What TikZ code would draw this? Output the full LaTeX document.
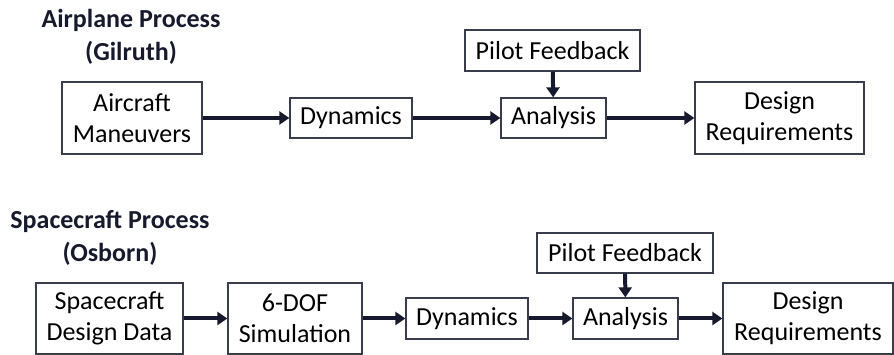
\documentclass[tikz,border=0pt]{standalone}
\usepackage{fontspec}
\setmainfont{Carlito}
\usetikzlibrary{arrows.meta}
\definecolor{ink}{RGB}{22,26,44}
\tikzset{
	box/.style={draw=ink!85, line width=1.3pt, align=center, inner sep=0pt,
		font=\fontsize{26}{31}\selectfont},
	flow/.style={draw=ink, line width=4pt, -{Triangle[length=10pt,width=13pt]}},
	heading/.style={align=center, text=ink, font=\bfseries\fontsize{26}{33}\selectfont}
}
\begin{document}
\begin{tikzpicture}[x=1pt,y=1pt]
			\useasboundingbox (0,0) rectangle (894,355);
			% airplane process
			\node[heading] (t1) at (131,318) {Airplane Process\\(Gilruth)};
			\node[box, minimum width=140, minimum height=72] (am) at (132,237) {Aircraft\\Maneuvers};
			\node[box, minimum width=122, minimum height=40] (dyna) at (351,237) {Dynamics};
			\node[box, minimum width=105, minimum height=40] (ana) at (553.5,237) {Analysis};
			\node[box, minimum width=175, minimum height=41] (pfa) at (552.5,304.5) {Pilot Feedback};
			\node[box, minimum width=169, minimum height=72] (dra) at (779.5,237) {Design\\Requirements};
			\draw[flow] (am) to (dyna);
			\draw[flow] (dyna) to (ana);
			\draw[flow] (ana) to (dra);
			\draw[flow] (pfa) to (ana);
			% spacecraft process
			\node[heading] (t2) at (110,117) {Spacecraft Process\\(Osborn)};
			\node[box, minimum width=147, minimum height=71] (sdd) at (109.5,36.5) {Spacecraft\\Design Data};
			\node[box, minimum width=134, minimum height=71] (sim) at (295,36.5) {6-DOF\\Simulation};
			\node[box, minimum width=122, minimum height=41] (dynb) at (467,36.5) {Dynamics};
			\node[box, minimum width=105, minimum height=41] (anb) at (625.5,36.5) {Analysis};
			\node[box, minimum width=176, minimum height=40] (pfb) at (625,102) {Pilot Feedback};
			\node[box, minimum width=170, minimum height=71] (drb) at (808,36.5) {Design\\Requirements};
			\draw[flow] (sdd) to (sim);
			\draw[flow] (sim) to (dynb);
			\draw[flow] (dynb) to (anb);
			\draw[flow] (anb) to (drb);
			\draw[flow] (pfb) to (anb);
		\end{tikzpicture}
\end{document}
